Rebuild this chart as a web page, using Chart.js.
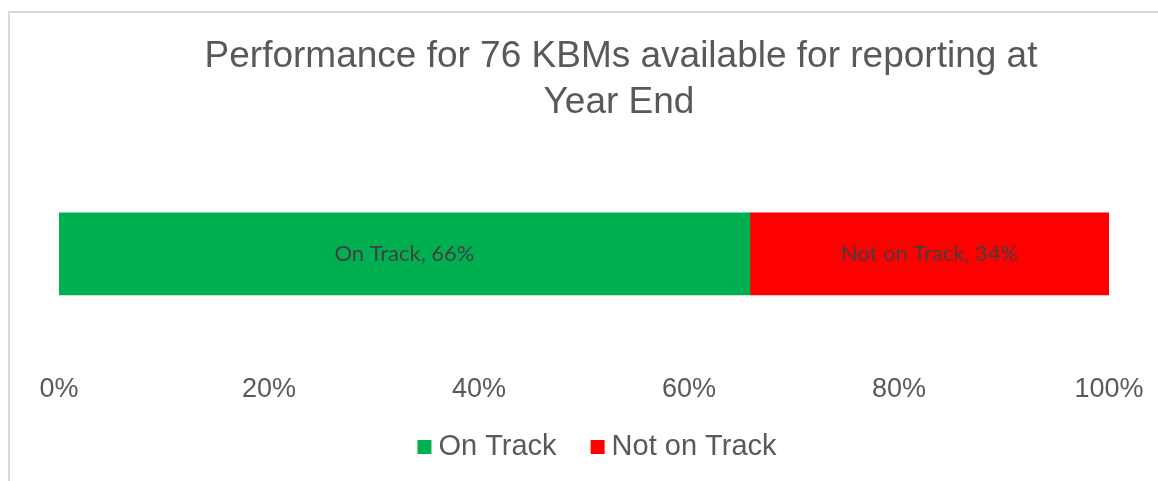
<!DOCTYPE html>
<html>
<head>
<meta charset="utf-8">
<script src="https://cdn.jsdelivr.net/npm/chart.js@4"></script>
<style>
  html, body { margin: 0; padding: 0; background: #ffffff; }
  #wrap { position: relative; width: 1158px; height: 481px; overflow: hidden; }
  #frame { position: absolute; left: 8px; top: 11px; width: 1160px; height: 480px;
           border-left: 2px solid #d9d9d9; border-top: 2px solid #d9d9d9; box-sizing: border-box; }
  canvas { position: absolute; left: 0; top: 0; }
</style>
</head>
<body>
<div id="wrap">
  <div id="frame"></div>
  <canvas id="c" width="1158" height="481"></canvas>
</div>
<script>
// ---- data ----
const categories = ['Year End'];
const seriesNames = ['On Track', 'Not on Track'];
const onTrack = [65.8];
const notOnTrack = [34.2];
const labelPercents = ['66%', '34%'];
const seriesColors = ['#00b050', '#ff0000'];
const titleLines = ['Performance for 76 KBMs available for reporting at', 'Year End'];
const tickValues = [0, 20, 40, 60, 80, 100];

const FONT = '"Liberation Sans", Arial, sans-serif';
const GREY = '#595959';

const titlePlugin = {
  id: 'customTitle',
  afterDraw(chart) {
    const ctx = chart.ctx;
    ctx.save();
    ctx.fillStyle = GREY;
    ctx.font = '37px ' + FONT;
    ctx.textAlign = 'center';
    ctx.textBaseline = 'alphabetic';
    ctx.fillText(titleLines[0], 621, 67);
    ctx.fillText(titleLines[1], 619, 113);
    ctx.restore();
  }
};

const legendPlugin = {
  id: 'customLegend',
  afterDraw(chart) {
    const ctx = chart.ctx;
    ctx.save();
    ctx.font = '29px ' + FONT;
    ctx.textBaseline = 'middle';
    ctx.textAlign = 'left';
    const box = 14, gapText = 7, gapItem = 34, cy = 447;
    const widths = chart.data.datasets.map(ds => ctx.measureText(ds.label).width);
    const total = widths.reduce((a, w) => a + box + gapText + w, 0) + gapItem * (widths.length - 1);
    let x = 597 - total / 2;
    chart.data.datasets.forEach((ds, i) => {
      ctx.fillStyle = ds.backgroundColor;
      ctx.fillRect(x, cy - box / 2, box, box);
      x += box + gapText;
      ctx.fillStyle = GREY;
      ctx.fillText(ds.label, x, cy);
      x += widths[i] + gapItem;
    });
    ctx.restore();
  }
};

const dataLabelPlugin = {
  id: 'segLabels',
  afterDatasetsDraw(chart) {
    const ctx = chart.ctx;
    ctx.save();
    ctx.fillStyle = '#404040';
    ctx.font = '22px Lato, "Open Sans", sans-serif';
    ctx.textAlign = 'center';
    ctx.textBaseline = 'middle';
    chart.data.datasets.forEach((ds, i) => {
      const meta = chart.getDatasetMeta(i);
      meta.data.forEach((bar) => {
        const p = bar.getProps(['x', 'y', 'base'], true);
        const cx = (p.x + p.base) / 2;
        ctx.fillText(ds.label + ', ' + labelPercents[i], cx, p.y);
      });
    });
    ctx.restore();
  }
};

new Chart(document.getElementById('c'), {
  type: 'bar',
  data: {
    labels: categories,
    datasets: [
      { label: seriesNames[0], data: onTrack, backgroundColor: seriesColors[0], borderWidth: 0, barThickness: 82 },
      { label: seriesNames[1], data: notOnTrack, backgroundColor: seriesColors[1], borderWidth: 0, barThickness: 82 }
    ]
  },
  options: {
    indexAxis: 'y',
    responsive: false,
    animation: false,
    layout: { padding: { top: 137, left: 59, right: 49, bottom: 72 } },
    scales: {
      x: {
        stacked: true, min: 0, max: 100,
        afterBuildTicks(scale) { scale.ticks = tickValues.map(v => ({ value: v })); },
        grid: { display: false, drawTicks: false },
        border: { display: false },
        ticks: { color: GREY, font: { family: FONT, size: 27 }, padding: 3,
                 callback: v => v + '%' }
      },
      y: { stacked: true, display: false }
    },
    plugins: {
      legend: { display: false },
      tooltip: { enabled: false },
      title: { display: false }
    }
  },
  plugins: [titlePlugin, dataLabelPlugin, legendPlugin]
});
</script>
</body>
</html>
